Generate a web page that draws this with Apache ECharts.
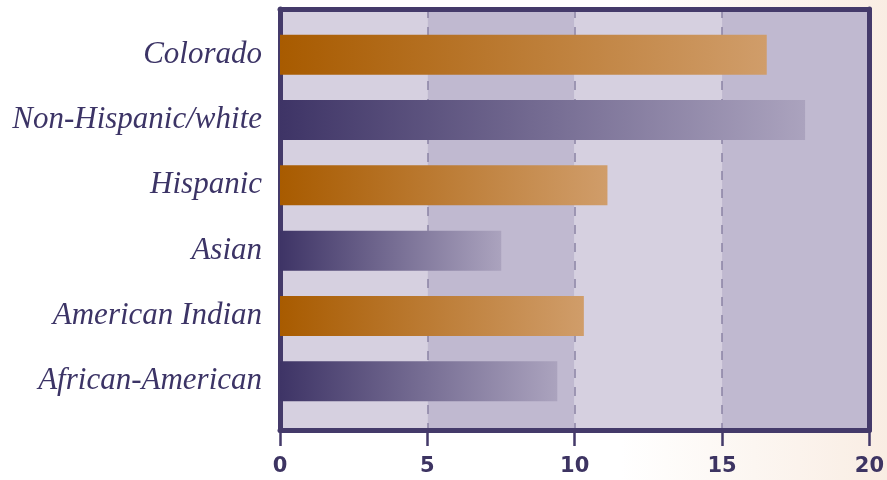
<!DOCTYPE html>
<html>
<head>
<meta charset="utf-8">
<script src="https://cdn.jsdelivr.net/npm/echarts@6/dist/echarts.min.js"></script>
<style>
html,body{margin:0;padding:0;}
#c{width:887px;height:480px;}
</style>
</head>
<body>
<div id="c"></div>
<script>
var categories = ['Colorado', 'Non-Hispanic/white', 'Hispanic', 'Asian', 'American Indian', 'African-American'];
var values = [16.5, 17.8, 11.1, 7.5, 10.3, 9.4];
var barKinds = ['orange', 'purple', 'orange', 'purple', 'orange', 'purple'];
var xTicks = [0, 5, 10, 15, 20];

var gradients = {
  orange: ['#a85b00', '#d09d6a'],
  purple: ['#3e3466', '#aba3be']
};

var chart = echarts.init(document.getElementById('c'));
var data = values.map(function (v, i) {
  var g = gradients[barKinds[i]];
  return {
    value: v,
    itemStyle: {
      color: new echarts.graphic.LinearGradient(0, 0, 1, 0, [
        { offset: 0, color: g[0] },
        { offset: 1, color: g[1] }
      ])
    }
  };
});

var frameLine = { show: true, onZero: false, lineStyle: { color: '#443a6a', width: 5 } };

chart.setOption({
  backgroundColor: new echarts.graphic.LinearGradient(0, 0, 1, 0, [
    { offset: 0, color: '#ffffff' },
    { offset: 0.7, color: '#ffffff' },
    { offset: 1, color: '#f9ede3' }
  ]),
  animation: false,
  grid: [
    { left: 280, right: 17, top: 9, bottom: 50 },
    { left: 280, right: 17, top: 22, bottom: 66 }
  ],
  xAxis: [
    {
      gridIndex: 0, type: 'value', position: 'bottom', min: xTicks[0], max: xTicks[xTicks.length - 1], interval: 5,
      axisLine: frameLine,
      axisTick: { show: true, length: 16, lineStyle: { color: '#443a6a', width: 2.5 } },
      axisLabel: { margin: 26, color: '#3d3462', fontFamily: 'DejaVu Sans', fontWeight: 'bold', fontSize: 21 },
      splitLine: { show: true, lineStyle: { color: '#8a82a4', width: 1.5, type: [9, 9] } },
      splitArea: { show: true, areaStyle: { color: ['#d6d0e0', '#c0b9d0'] } }
    },
    {
      gridIndex: 0, type: 'value', position: 'top', min: 0, max: 20,
      axisLine: frameLine, axisTick: { show: false }, axisLabel: { show: false }, splitLine: { show: false }
    },
    {
      gridIndex: 1, type: 'value', min: 0, max: 20, show: false,
      splitLine: { show: false }
    }
  ],
  yAxis: [
    { gridIndex: 0, type: 'value', position: 'left', min: 0, max: 1, axisLine: frameLine, axisTick: { show: false }, axisLabel: { show: false }, splitLine: { show: false } },
    { gridIndex: 0, type: 'value', position: 'right', min: 0, max: 1, axisLine: frameLine, axisTick: { show: false }, axisLabel: { show: false }, splitLine: { show: false } },
    {
      gridIndex: 1, type: 'category', data: categories, inverse: true,
      axisLine: { show: false }, axisTick: { show: false },
      axisLabel: { margin: 18, color: '#3c3466', fontFamily: 'Liberation Serif', fontStyle: 'italic', fontSize: 31 }
    }
  ],
  series: [
    {
      type: 'bar', xAxisIndex: 2, yAxisIndex: 2, data: data, barWidth: 40, z: 3
    }
  ]
});
</script>
</body>
</html>
